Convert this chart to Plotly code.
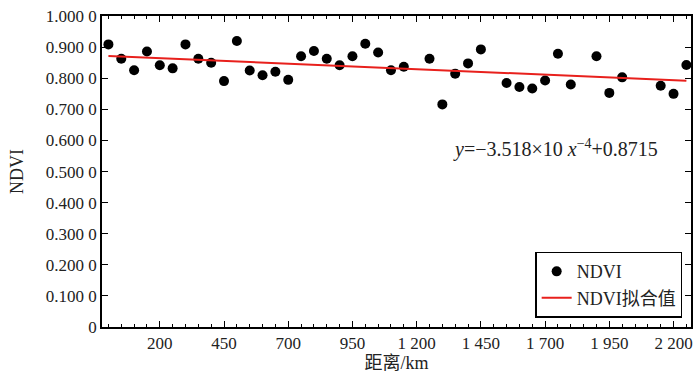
import plotly.graph_objects as go

distance_km = [0, 50, 100, 150, 200, 250, 300, 350, 400, 450, 500, 550, 600, 650, 700,
               750, 800, 850, 900, 950, 1000, 1050, 1100, 1150, 1250, 1300, 1350, 1400,
               1450, 1550, 1600, 1650, 1700, 1750, 1800, 1900, 1950, 2000, 2150, 2200, 2250]
ndvi = [0.909, 0.863, 0.826, 0.886, 0.842, 0.832, 0.909, 0.863, 0.850, 0.791, 0.920,
        0.825, 0.810, 0.821, 0.795, 0.871, 0.888, 0.863, 0.842, 0.871, 0.911, 0.883,
        0.826, 0.837, 0.863, 0.716, 0.815, 0.848, 0.893, 0.785, 0.772, 0.767, 0.793,
        0.879, 0.780, 0.871, 0.753, 0.803, 0.776, 0.750, 0.843]
slope = -3.518e-5
intercept = 0.8715
fit_x = [0, 2250]
fit_y = [intercept + slope * v for v in fit_x]

x_ticks = [200, 450, 700, 950, 1200, 1450, 1700, 1950, 2200]
x_tick_text = ["200", "450", "700", "950", "1 200", "1 450", "1 700", "1 950", "2 200"]
y_ticks = [0, 0.1, 0.2, 0.3, 0.4, 0.5, 0.6, 0.7, 0.8, 0.9, 1.0]
y_tick_text = ["0", "0.100 0", "0.200 0", "0.300 0", "0.400 0", "0.500 0",
               "0.600 0", "0.700 0", "0.800 0", "0.900 0", "1.000 0"]

FONT = "Liberation Serif, Noto Sans CJK SC, serif"

fig = go.Figure()
fig.add_trace(go.Scatter(x=distance_km, y=ndvi, mode="markers", name="NDVI",
                         marker=dict(color="black", size=10)))
fig.add_trace(go.Scatter(x=fit_x, y=fit_y, mode="lines", name="NDVI拟合值",
                         line=dict(color="#e8201c", width=2)))

fig.update_layout(
    width=700, height=375,
    margin=dict(l=102, r=8, t=7, b=48),
    paper_bgcolor="white", plot_bgcolor="white",
    font=dict(family=FONT, size=17, color="#222"),
    showlegend=True,
    legend=dict(x=0.985, y=0.03, xanchor="right", yanchor="bottom",
                bordercolor="black", borderwidth=1.5, bgcolor="white",
                font=dict(family=FONT, size=18, color="#222"),
                tracegroupgap=0, itemwidth=30),
    xaxis=dict(range=[-25, 2268], tickmode="array", tickvals=x_ticks, ticktext=x_tick_text,
               ticks="inside", ticklen=6, tickwidth=1.2, tickcolor="black",
               showline=True, linecolor="black", linewidth=1.5, mirror="allticks",
               showgrid=False, zeroline=False,
               minor=dict(dtick=50, tick0=0, ticks="inside", ticklen=3, tickcolor="black", tickwidth=1),
               title=dict(text="距离/km", standoff=0, font=dict(family=FONT, size=18)),
               tickfont=dict(family=FONT, size=17)),
    yaxis=dict(range=[0, 1.0004], tickmode="array", tickvals=y_ticks, ticktext=y_tick_text,
               ticks="inside", ticklen=6, tickwidth=1.2, tickcolor="black",
               showline=True, linecolor="black", linewidth=1.5, mirror="allticks",
               showgrid=False, zeroline=False, ticklabeloverflow="allow",
               title=dict(text="NDVI", standoff=18, font=dict(family=FONT, size=18)),
               tickfont=dict(family=FONT, size=17)),
)

fig.add_annotation(xref="paper", yref="paper", x=0.593, y=0.573, xanchor="left", yanchor="middle",
                   showarrow=False,
                   text="<i>y</i>=−3.518×10 <i>x</i><sup>−4</sup>+0.8715",
                   font=dict(family=FONT, size=20, color="#222"))

fig.write_html("out.html", config={"displayModeBar": False},
               post_script="document.body.style.margin='0';document.body.style.overflow='hidden';")
